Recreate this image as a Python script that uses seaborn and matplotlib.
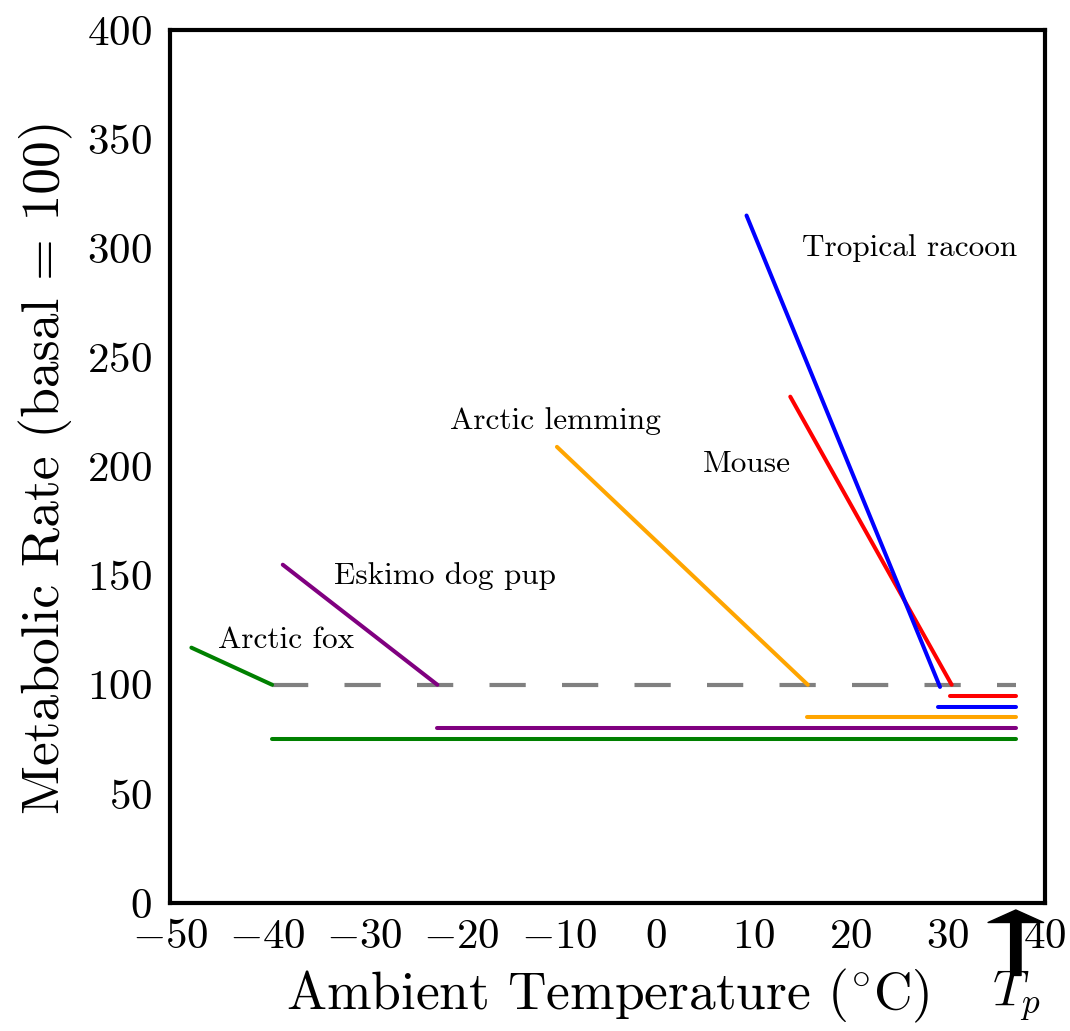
import matplotlib
matplotlib.use("Agg")
import matplotlib.pyplot as plt
import seaborn as sns
import pandas as pd

# ---- data ----
species = ["Arctic fox", "Eskimo dog pup", "Arctic lemming", "Mouse", "Tropical racoon"]
colors = ["green", "purple", "orange", "red", "blue"]
# cold-response sloped segments (x0, y0) -> (x1, y1)
slope_x0 = [-47.8, -38.4, -10.2, 13.8, 9.3]
slope_y0 = [117, 155, 209, 232, 315]
slope_x1 = [-39.5, -22.5, 15.6, 30.4, 29.2]
slope_y1 = [100, 100, 100, 100, 99]
# body-temperature horizontal segments
body_x0 = [-39.5, -22.5, 15.5, 30.2, 29.0]
body_y = [75, 80, 85, 95, 90]
Tp = 37
basal = 100
label_x = [-45.1, -33.1, -21.2, 4.8, 15.0]
label_y = [120.6, 150, 221, 201, 300]
xticks = [-50, -40, -30, -20, -10, 0, 10, 20, 30, 40]
yticks = [0, 50, 100, 150, 200, 250, 300, 350, 400]

sns.set_style("white")
plt.rcParams["font.family"] = ["cmr10", "DejaVu Serif"]
plt.rcParams["mathtext.fontset"] = "cm"
plt.rcParams["axes.formatter.use_mathtext"] = True
plt.rcParams["text.color"] = "black"
plt.rcParams["axes.labelcolor"] = "black"
plt.rcParams["xtick.color"] = "black"
plt.rcParams["ytick.color"] = "black"

fig = plt.figure(figsize=(10.7, 10.31), dpi=100)
ax = fig.add_axes([170/1070, 128/1031, 875/1070, 873/1031])

# basal line
sns.lineplot(x=[-39.5, Tp], y=[basal, basal], color="gray", lw=3.0,
             linestyle=(0, (8.7, 8.7)), ax=ax, sort=False)

for i in range(len(species)):
    sns.lineplot(x=[slope_x0[i], slope_x1[i]], y=[slope_y0[i], slope_y1[i]],
                 color=colors[i], lw=2.9, ax=ax, sort=False)
    sns.lineplot(x=[body_x0[i], Tp], y=[body_y[i], body_y[i]],
                 color=colors[i], lw=2.9, ax=ax, sort=False)
    ax.text(label_x[i], label_y[i], species[i], fontsize=22.5, va="center", ha="left",
            color="black")

ax.set_xlim(-50, 40)
ax.set_ylim(0, 400)
ax.set_xticks(xticks)
ax.set_yticks(yticks)
ax.tick_params(axis="both", direction="in", length=15, width=1.5, labelsize=31,
               top=False, right=False, colors="black")
ax.tick_params(axis="y", pad=13)
ax.tick_params(axis="x", pad=11)
for s in ax.spines.values():
    s.set_linewidth(3)
    s.set_color("black")

ax.set_xlabel("Ambient Temperature ($^{\\circ}$C)", fontsize=38.5, labelpad=8)
ax.set_ylabel("Metabolic Rate (basal = 100)", fontsize=38.5, labelpad=10)

# Tp arrow
ax.annotate("", xy=(Tp, -0.008), xytext=(Tp, -0.083),
            xycoords=("data", "axes fraction"), textcoords=("data", "axes fraction"),
            arrowprops=dict(width=7.5, headwidth=40, headlength=9, facecolor="black",
                            edgecolor="black", shrink=0), annotation_clip=False)
ax.text(Tp, -0.106, "$T_p$", fontsize=36, ha="center", va="center",
        transform=ax.get_xaxis_transform(), clip_on=False)

fig.savefig("out.png", dpi=100)
